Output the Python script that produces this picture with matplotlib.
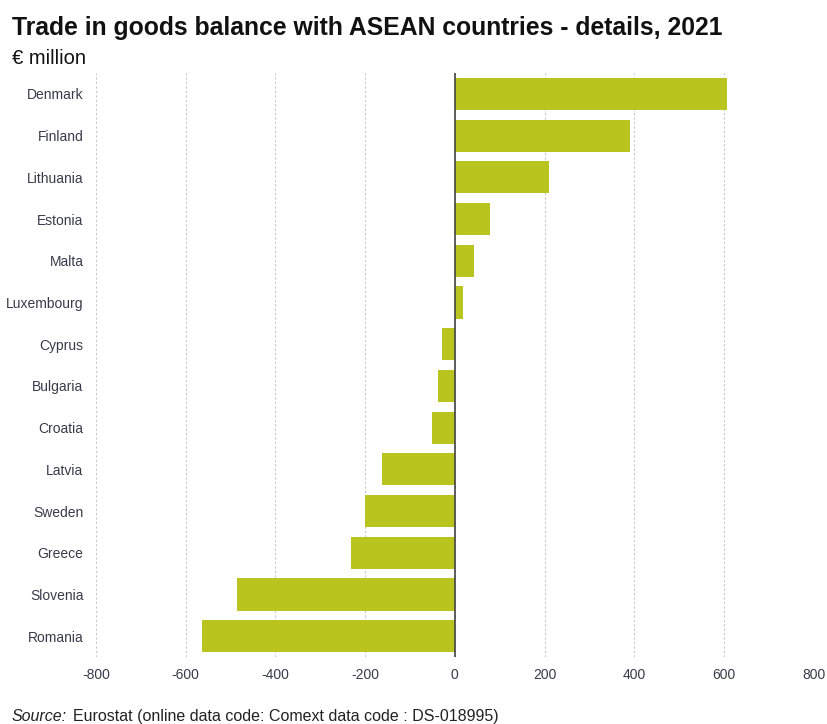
import matplotlib
matplotlib.use("Agg")
import matplotlib.pyplot as plt
from matplotlib import font_manager
from matplotlib.transforms import offset_copy

countries = ["Denmark", "Finland", "Lithuania", "Estonia", "Malta", "Luxembourg",
             "Cyprus", "Bulgaria", "Croatia", "Latvia", "Sweden", "Greece",
             "Slovenia", "Romania"]
balance = [606, 390, 209, 78, 42, 19, -28, -37, -51, -163, -200, -232, -486, -564]
x_ticks = [-800, -600, -400, -200, 0, 200, 400, 600, 800]

names = {f.name for f in font_manager.fontManager.ttflist}
narrow = "Liberation Sans Narrow" if "Liberation Sans Narrow" in names else "Liberation Sans"

BAR = "#B9C41F"
TICK = "#3a3a4a"

fig = plt.figure(figsize=(8.27, 7.24), dpi=100)
ax = fig.add_axes([0.116, 0.0925, 0.868, 0.8065])

y = list(range(len(countries)))
ax.barh(y, balance, height=0.77, color=BAR, zorder=2)
ax.axvline(0, color="#444444", lw=1.2, zorder=3)

ax.set_xlim(-800, 800)
ax.set_ylim(len(countries) - 0.5, -0.5)
ax.set_yticks(y)
ax.set_yticklabels(countries, fontfamily=narrow, fontsize=10, color=TICK)
ax.set_xticks(x_ticks)
ax.set_xticklabels([str(v) for v in x_ticks], fontfamily=narrow, fontsize=10, color=TICK)
ax.tick_params(axis="y", length=0, pad=9)
ax.tick_params(axis="x", length=0, pad=8)
ax.grid(axis="x", color="#c8c8c8", linestyle=(0, (2, 2)), lw=0.8, zorder=0)
for s in ax.spines.values():
    s.set_visible(False)

fig.text(0.0145, 0.951, "Trade in goods balance with ASEAN countries - details, 2021",
         fontfamily="Liberation Sans", fontweight="bold", fontsize=17.8, color="#111111",
         va="baseline")
fig.text(0.0145, 0.911, "€ million", fontfamily="Liberation Sans", fontsize=14.5,
         color="#111111", va="baseline")

src = fig.text(0.0145, 0.004, "Source:", fontfamily=narrow, fontstyle="italic",
               fontsize=11.5, color="#222222", va="baseline")
fig.canvas.draw()
bb = src.get_window_extent()
fig.text(0, 0.004, "Eurostat (online data code: Comext data code : DS-018995)",
         fontfamily=narrow, fontsize=11.5, color="#222222", va="baseline",
         transform=offset_copy(fig.transFigure, fig=fig, x=(bb.x1 + 6) / fig.dpi,
                               y=0, units="inches"))

fig.savefig("out.png", dpi=100)
